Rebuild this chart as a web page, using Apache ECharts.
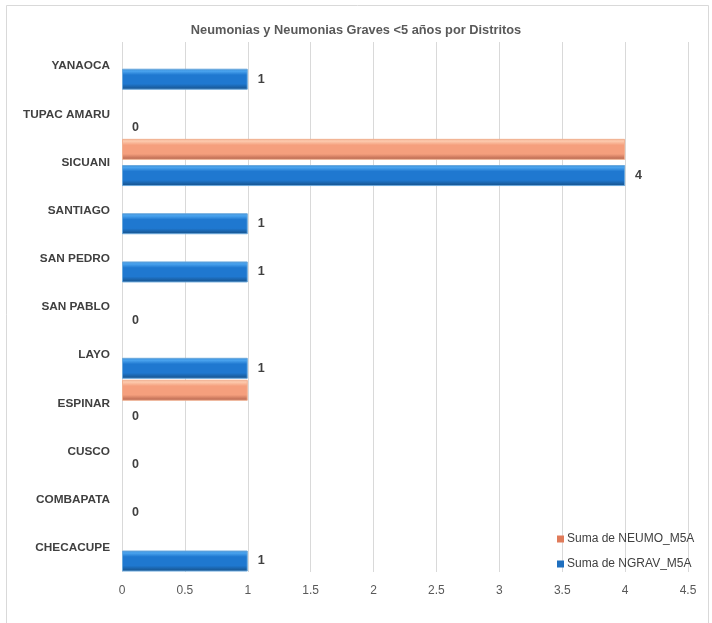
<!DOCTYPE html>
<html>
<head>
<meta charset="utf-8">
<script src="https://cdn.jsdelivr.net/npm/echarts@6/dist/echarts.min.js"></script>
<style>
html,body{margin:0;padding:0;background:#fff;}
#chart{width:712px;height:623px;}
</style>
</head>
<body>
<div id="chart"></div>
<script>
const title = 'Neumonias y Neumonias Graves <5 años por Distritos';
const categories = ['CHECACUPE','COMBAPATA','CUSCO','ESPINAR','LAYO','SAN PABLO','SAN PEDRO','SANTIAGO','SICUANI','TUPAC AMARU','YANAOCA'];
const seriesNames = ['Suma de NEUMO_M5A','Suma de NGRAV_M5A'];
const neumo = [0,0,0,1,0,0,0,0,4,0,0];
const ngrav = [1,0,0,0,1,0,1,1,4,0,1];
const xTicks = [0,0.5,1,1.5,2,2.5,3,3.5,4,4.5];

const FONT = 'Liberation Sans';

function grad(top, hi, mid, dark){
  return new echarts.graphic.LinearGradient(0,0,0,1,[
    {offset:0, color:top},
    {offset:0.12, color:hi},
    {offset:0.3, color:mid},
    {offset:0.72, color:mid},
    {offset:1, color:dark}
  ]);
}
const orangeFill = grad('#f6b99c','#fcc8ab','#f59f7d','#b0604a');
const blueFill = grad('#3d8fd8','#4aa3ee','#1f78d0','#164f86');

function mk(vals, fill, border){
  return vals.map(v => ({value:v, itemStyle:{color:fill, borderColor:border, borderWidth: v ? 1 : 0}}));
}

const chart = echarts.init(document.getElementById('chart'), null, {renderer:'canvas'});
chart.setOption({
  animation:false,
  backgroundColor:'#fff',
  title:{
    text:title, left:'center', top:19,
    textStyle:{fontFamily:FONT, fontSize:12.8, fontWeight:'bold', color:'#595959'}
  },
  graphic:[{type:'rect', shape:{x:6.5,y:5.5,width:702,height:640}, style:{fill:'none', stroke:'#d9d9d9', lineWidth:1}, silent:true}],
  legend:{
    orient:'vertical', left:552, top:528, itemWidth:7, itemHeight:7, itemGap:13,
    icon:'rect',
    data:[{name:seriesNames[0], itemStyle:{color:'#e07b5a'}},{name:seriesNames[1], itemStyle:{color:'#1f6fbf'}}],
    textStyle:{fontFamily:FONT, fontSize:12, color:'#404040', padding:[0,0,0,-2]}
  },
  grid:{left:122, right:24, top:42, bottom:51, containLabel:false},
  xAxis:{
    type:'value', min:0, max:4.5, interval:0.5,
    axisLine:{show:false}, axisTick:{show:false},
    splitLine:{show:true, lineStyle:{color:'#d9d9d9', width:1}},
    axisLabel:{fontFamily:FONT, fontSize:12, color:'#595959', margin:13,
      formatter: v => String(v)}
  },
  yAxis:{
    type:'category', data:categories,
    axisLine:{show:false}, axisTick:{show:false},
    axisLabel:{fontFamily:FONT, fontSize:11.8, fontWeight:'bold', color:'#404040', margin:12}
  },
  series:[
    {name:seriesNames[0], type:'bar', data:mk(neumo, orangeFill, '#f0b090'), barGap:'25%', barCategoryGap:'2%'},
    {name:seriesNames[1], type:'bar', data:mk(ngrav, blueFill, '#6aa8dc'), barGap:'25%', barCategoryGap:'2%',
     label:{show:true, position:'right', distance:10, fontFamily:FONT, fontSize:12.5, fontWeight:'bold', color:'#404040'}}
  ]
});
</script>
</body>
</html>
